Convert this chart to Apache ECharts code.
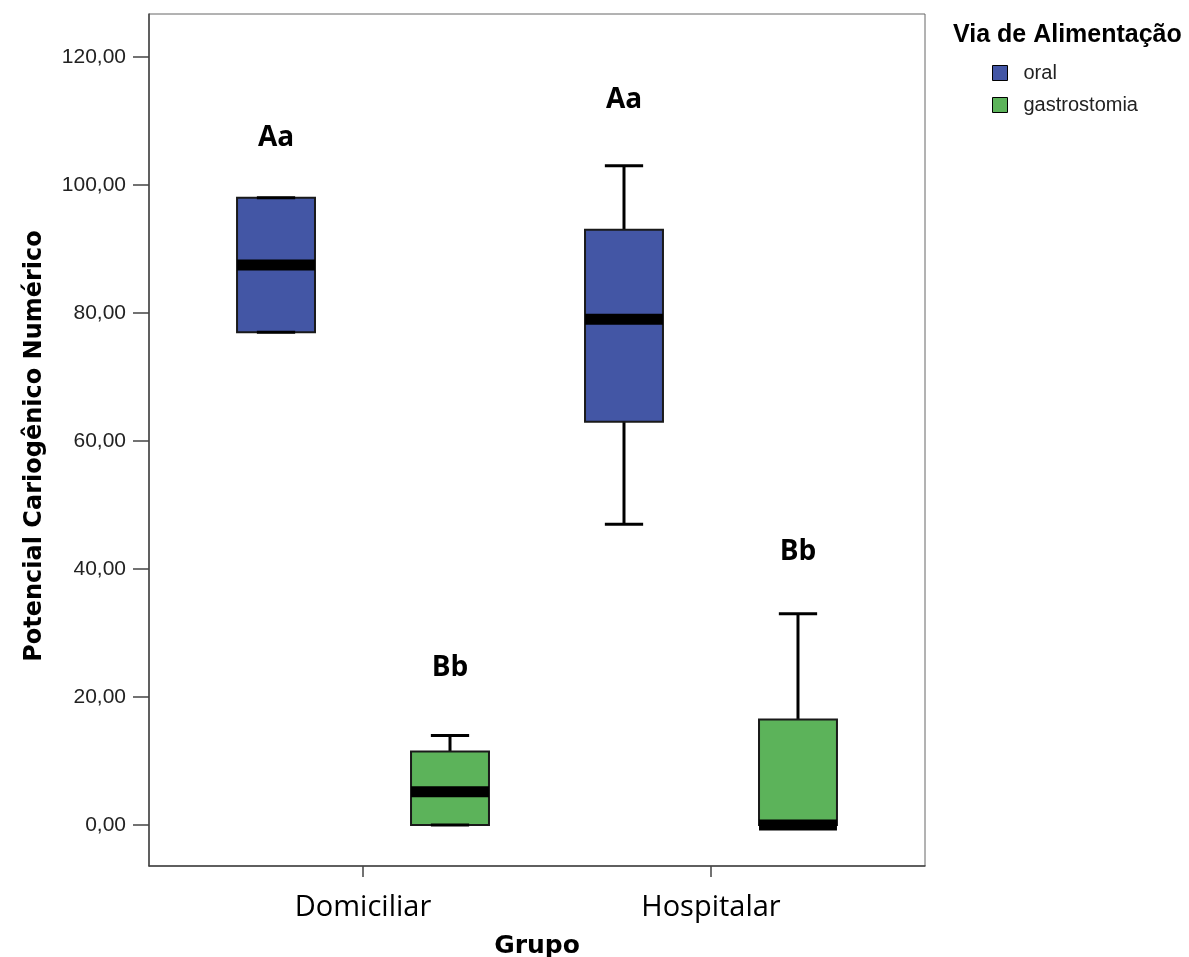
<!DOCTYPE html>
<html><head><meta charset="utf-8">
<script src="https://cdn.jsdelivr.net/npm/echarts@6/dist/echarts.min.js"></script>
<style>html,body{margin:0;padding:0;background:#fff}#c{width:1189px;height:957px}</style>
</head><body><div id="c"></div>
<script>
const categories = ['Domiciliar', 'Hospitalar'];
const seriesNames = ['oral', 'gastrostomia'];
// box stats per category: [min, q1, median, q3, max]
const oralBox = [[77, 77, 87.5, 98, 98], [47, 63, 79, 93, 103]];
const gastroBox = [[0, 0, 5.2, 11.5, 14], [0, 0, 0, 16.5, 33]];
const oralLetters = ['Aa', 'Aa'];
const oralLetterY = [107.3, 113.3];
const gastroLetters = ['Bb', 'Bb'];
const gastroLetterY = [24.5, 42.7];
const yTicks = [0, 20, 40, 60, 80, 100, 120];
const xTicks = [0, 1];

const oralColor = '#4356A5';
const gastroColor = '#5CB35A';

function makeRender(offset, letters) {
  return function (params, api) {
    const c = api.value(0) + offset;
    const mn = api.value(1), q1 = api.value(2), md = api.value(3), q3 = api.value(4), mx = api.value(5), ly = api.value(6);
    const hw = 0.112, cw = 0.055;
    const tl = api.coord([c - hw, q3]), br = api.coord([c + hw, q1]);
    const top = api.coord([c, mx]), q3p = api.coord([c, q3]), q1p = api.coord([c, q1]), bot = api.coord([c, mn]);
    const capL1 = api.coord([c - cw, mx]), capR1 = api.coord([c + cw, mx]);
    const capL2 = api.coord([c - cw, mn]), capR2 = api.coord([c + cw, mn]);
    const med = api.coord([c, md]);
    const lp = api.coord([c, ly]);
    const fill = api.visual('color');
    const ws = { stroke: '#000', lineWidth: 3 };
    return {
      type: 'group',
      children: [
        { type: 'line', shape: { x1: top[0], y1: top[1], x2: q3p[0], y2: q3p[1] }, style: ws },
        { type: 'line', shape: { x1: bot[0], y1: bot[1], x2: q1p[0], y2: q1p[1] }, style: ws },
        { type: 'rect', shape: { x: tl[0], y: tl[1], width: br[0] - tl[0], height: br[1] - tl[1] }, style: { fill: fill, stroke: '#1a1a1a', lineWidth: 2 } },
        { type: 'line', shape: { x1: capL1[0], y1: capL1[1], x2: capR1[0], y2: capR1[1] }, style: ws },
        { type: 'line', shape: { x1: capL2[0], y1: capL2[1], x2: capR2[0], y2: capR2[1] }, style: ws },
        { type: 'rect', shape: { x: tl[0], y: med[1] - 5.5, width: br[0] - tl[0], height: 11 }, style: { fill: '#000' } },
        { type: 'text', x: lp[0], y: lp[1], style: { text: letters[params.dataIndex], font: 'bold 28px "Open Sans"', fill: '#000', align: 'center', verticalAlign: 'middle' } }
      ]
    };
  };
}

const oralData = oralBox.map((b, i) => [i].concat(b, [oralLetterY[i]]));
const gastroData = gastroBox.map((b, i) => [i].concat(b, [gastroLetterY[i]]));

const chart = echarts.init(document.getElementById('c'), null, { renderer: 'canvas' });
chart.setOption({
  backgroundColor: '#fff',
  animation: false,
  title: {
    text: 'Via de Alimentação', left: 953, top: 23, padding: 0,
    textStyle: { fontFamily: 'Liberation Sans', fontWeight: 'bold', fontSize: 25, color: '#000' }
  },
  legend: {
    orient: 'vertical', left: 992, top: 63, padding: 0, itemWidth: 15, itemHeight: 15, itemGap: 12, icon: 'rect',
    selectedMode: false,
    data: [
      { name: seriesNames[0], itemStyle: { color: oralColor, borderColor: '#000', borderWidth: 1 } },
      { name: seriesNames[1], itemStyle: { color: gastroColor, borderColor: '#000', borderWidth: 1 } }
    ],
    textStyle: { fontFamily: 'Liberation Sans', fontSize: 20, color: '#222', padding: [0, 0, 0, 11] }
  },
  grid: { left: 149, top: 14, width: 776, height: 852, show: true, borderColor: '#666', borderWidth: 1, containLabel: false, outerBoundsMode: 'none' },
  xAxis: {
    type: 'value', min: -0.615, max: 1.615, splitLine: { show: false },
    axisLine: { show: true, onZero: false, lineStyle: { color: '#444', width: 1.5 } },
    axisTick: { show: true, customValues: xTicks, length: 11, lineStyle: { color: '#444', width: 1.5 } },
    axisLabel: { customValues: xTicks, formatter: v => categories[Math.round(v)], margin: 27, fontFamily: 'Open Sans', fontSize: 29, color: '#000' },
    name: 'Grupo', nameLocation: 'middle', nameGap: 68,
    nameTextStyle: { fontFamily: 'DejaVu Sans', fontWeight: 'bold', fontSize: 25, color: '#000' }
  },
  yAxis: {
    type: 'value', min: -6.4, max: 126.7, splitLine: { show: false },
    axisLine: { show: true, onZero: false, lineStyle: { color: '#444', width: 1.5 } },
    axisTick: { show: true, customValues: yTicks, length: 16, lineStyle: { color: '#444', width: 1.5 } },
    axisLabel: { customValues: yTicks, formatter: v => v.toFixed(2).replace('.', ','), margin: 23, fontFamily: 'Liberation Sans', fontSize: 21, color: '#222' },
    name: 'Potencial Cariogênico Numérico', nameLocation: 'middle', nameGap: 102,
    nameTextStyle: { fontFamily: 'DejaVu Sans', fontWeight: 'bold', fontSize: 24, color: '#000', padding: [0, 12, 0, 0] }
  },
  series: [
    { name: seriesNames[0], type: 'custom', itemStyle: { color: oralColor }, renderItem: makeRender(-0.25, oralLetters), encode: { x: 0, y: [1, 2, 3, 4, 5, 6] }, data: oralData },
    { name: seriesNames[1], type: 'custom', itemStyle: { color: gastroColor }, renderItem: makeRender(0.25, gastroLetters), encode: { x: 0, y: [1, 2, 3, 4, 5, 6] }, data: gastroData }
  ]
});
</script>
</body></html>
